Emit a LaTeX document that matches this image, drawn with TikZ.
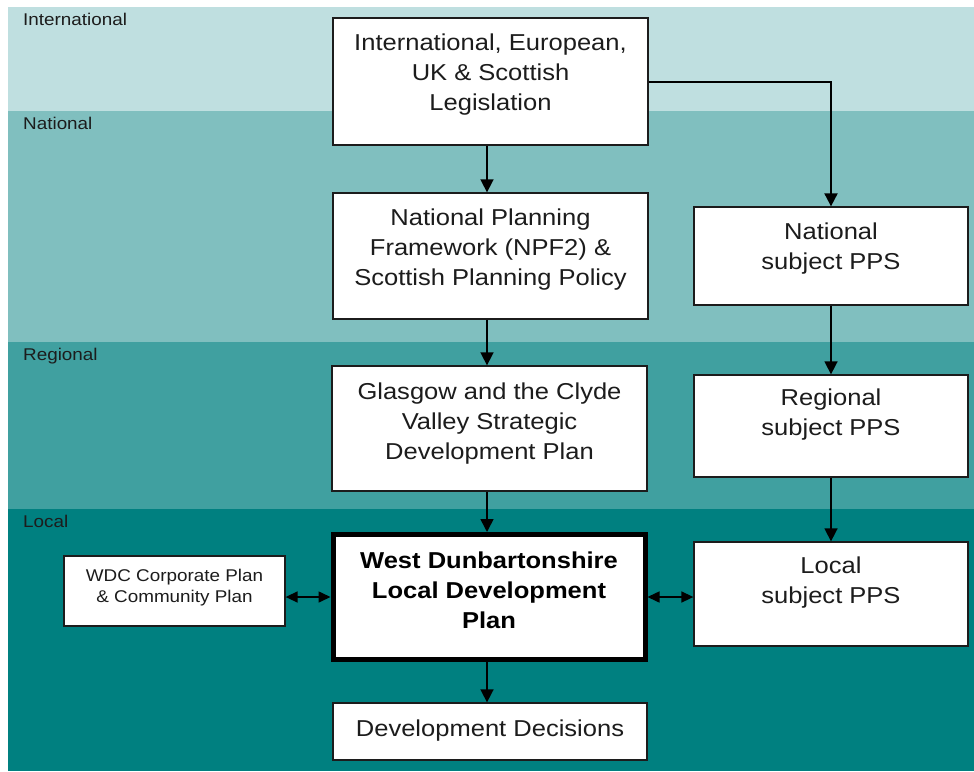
\documentclass[tikz,border=0pt]{standalone}
\usepackage{fontspec}
\setmainfont{Liberation Sans}[FakeStretch=1.11]
\usetikzlibrary{arrows.meta}
\definecolor{bandA}{RGB}{191,223,224}
\definecolor{bandB}{RGB}{128,191,191}
\definecolor{bandC}{RGB}{64,160,160}
\definecolor{bandD}{RGB}{0,128,128}
\definecolor{ink}{RGB}{28,28,28}
\begin{document}
\begin{tikzpicture}[x=1pt,y=-1pt,
  box/.style={draw=ink, line width=1.3pt, fill=white, inner sep=0pt, minimum width=#1},
  box/.default=315pt,
  bigtxt/.style={font=\fontsize{23}{30}\selectfont, text=ink, align=center, anchor=north, inner sep=0pt},
  smalltxt/.style={font=\fontsize{17}{21}\selectfont, text=ink, align=center, anchor=north, inner sep=0pt},
  bandlabel/.style={font=\fontsize{17}{20}\selectfont, text=ink, anchor=base west, inner sep=0pt},
  arr/.style={draw=black, line width=1.6pt, -{Triangle[width=13pt,length=13pt]}},
  darr/.style={draw=black, line width=1.6pt, {Triangle[width=11pt,length=12pt]}-{Triangle[width=11pt,length=12pt]}}
]
\useasboundingbox (0,0) rectangle (974,771);
% bands
\fill[bandA] (8,7) rectangle (974,111);
\fill[bandB] (8,111) rectangle (974,342);
\fill[bandC] (8,342) rectangle (974,509);
\fill[bandD] (8,509) rectangle (974,771);
\node[bandlabel] (lblI) at (23,25) {International};
\node[bandlabel] (lblN) at (23,129) {National};
\node[bandlabel] (lblR) at (23,360) {Regional};
\node[bandlabel] (lblL) at (23,527) {Local};
% boxes
\node[box, minimum height=127pt] (intl) at (490.5,81.5) {};
\node[box, minimum height=126pt] (npf) at (490.5,256) {};
\node[box, minimum height=125pt] (gcv) at (489.5,428.5) {};
\node[box=312pt, minimum height=125pt, line width=5pt, draw=black] (ldp) at (489,597) {};
\node[box=314pt, minimum height=57pt] (dev) at (490,731.5) {};
\node[box=221pt, minimum height=70pt] (wdc) at (174.5,591) {};
\node[box=274pt, minimum height=98pt] (npps) at (831,256) {};
\node[box=274pt, minimum height=102pt] (rpps) at (831,426) {};
\node[box=274pt, minimum height=104pt] (lpps) at (831,594) {};
% texts
\node[bigtxt] (tintl) at (490.5,34) {International, European,\\UK \& Scottish\\Legislation};
\node[bigtxt] (tnpf) at (490.5,209) {National Planning\\Framework (NPF2) \&\\Scottish Planning Policy};
\node[bigtxt] (tgcv) at (489.5,383) {Glasgow and the Clyde\\Valley Strategic\\Development Plan};
\node[bigtxt, font=\fontsize{23}{30}\selectfont\bfseries, text=black] (tldp) at (489,552) {West Dunbartonshire\\Local Development\\Plan};
\node[bigtxt] (tdev) at (490,720) {Development Decisions};
\node[smalltxt] (twdc) at (174.5,569) {WDC Corporate Plan\\\& Community Plan};
\node[bigtxt] (tnpps) at (831,223) {National\\subject PPS};
\node[bigtxt] (trpps) at (831,389) {Regional\\subject PPS};
\node[bigtxt] (tlpps) at (831,557) {Local\\subject PPS};
% connectors
\coordinate (ax) at (487,0);
\draw[arr] (intl.south -| ax) -- (npf.north -| ax);
\draw[arr] (npf.south -| ax) -- (gcv.north -| ax);
\draw[arr] (gcv.south -| ax) -- (ldp.north -| ax);
\draw[arr] (ldp.south -| ax) -- (dev.north -| ax);
\draw[arr, line width=2pt] (intl.east) -| (npps.north);
\draw[arr] (npps.south) -- (rpps.north);
\draw[arr] (rpps.south) -- (lpps.north);
\draw[darr] (wdc.east |- ldp.west) -- (ldp.west);
\draw[darr] (ldp.east) -- (lpps.west |- ldp.east);
\end{tikzpicture}
\end{document}
